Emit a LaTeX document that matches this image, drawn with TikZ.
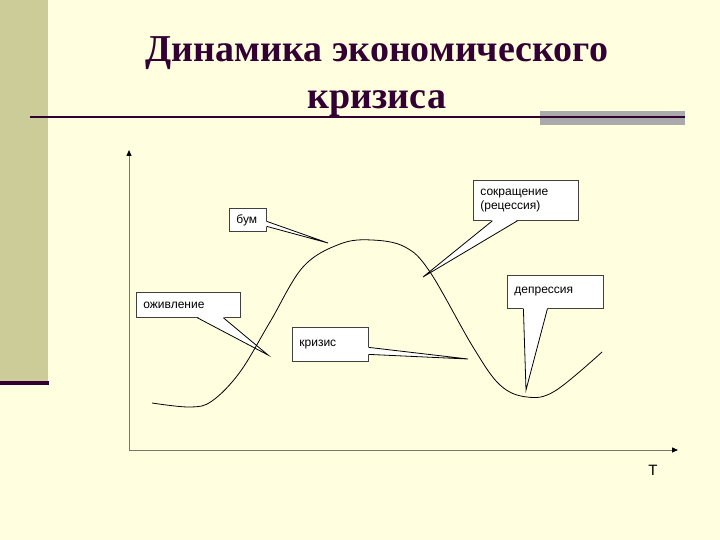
\documentclass[tikz,border=0pt]{standalone}
\usepackage{fontspec}
\setmainfont{Liberation Serif}
\setsansfont{Liberation Sans}
\usetikzlibrary{arrows.meta,positioning,calc}

\definecolor{slidebg}{RGB}{255,255,224}
\definecolor{sidebar}{RGB}{204,204,153}
\definecolor{plum}{RGB}{51,0,51}
\definecolor{bargray}{RGB}{170,170,170}
\definecolor{axisgray}{RGB}{120,120,110}

\begin{document}
\begin{tikzpicture}[x=1pt,y=-1pt,
  callout/.style={draw=black!75,fill=white,line width=0.8pt,anchor=north west,
    font=\sffamily\fontsize{12}{14}\selectfont,align=left,inner xsep=7pt,inner ysep=0pt},
  tail/.style={draw=black,line width=0.8pt},
  axis/.style={draw=axisgray,line width=1pt,-{Triangle[length=6pt,width=5pt,color=black]}}]
  \useasboundingbox[fill=slidebg] (0,0) rectangle (720,540);
  % slide decoration
  \fill[sidebar] (0,0) rectangle (48,381);
  \fill[plum] (0,381) rectangle (49,385);
  \fill[bargray] (540,111) rectangle (685,125);
  \draw[plum,line width=1.6pt] (30,117) -- (685,117);
  \node[text=plum,font=\bfseries\fontsize{38}{47}\selectfont,align=center] (title) at (377,77)
    {Динамика экономического\\кризиса};

  % axes
  \coordinate (O) at (129,450);
  \coordinate (ytop) at (129,150);
  \coordinate (xend) at (678,450);
  \draw[axis] (O) -- (ytop);
  \draw[axis] (O) -- (xend);
  \node[font=\sffamily\fontsize{15}{15}\selectfont] (T) at (653,470) {Т};

  % callouts
  \node[callout,text width=23pt,minimum height=23pt] (bum) at (229,208) {бум};
  \coordinate (bumtip) at (328,243);
  \fill[white] ($(bum.east)+(-1,1.5)$) -- (bumtip) -- ($(bum.east)+(-1,6.5)$) -- cycle;
  \draw[tail] ($(bum.east)+(0,1.5)$) -- (bumtip) -- ($(bum.east)+(0,6.5)$);

  \node[callout,text width=90pt,minimum height=25pt] (ozhiv) at (136,292) {оживление};
  \coordinate (ozhivtip) at (268,355);
  \fill[white] ($(ozhiv.south)+(9,-1)$) -- (ozhivtip) -- ($(ozhiv.south)+(35,-1)$) -- cycle;
  \draw[tail] ($(ozhiv.south)+(9,0)$) -- (ozhivtip) -- ($(ozhiv.south)+(35,0)$);

  \node[callout,text width=62pt,minimum height=34pt] (krizis) at (292,327) {кризис};
  \coordinate (krizistip) at (468,359);
  \fill[white] ($(krizis.east)+(-1,3)$) -- (krizistip) -- ($(krizis.east)+(-1,10)$) -- cycle;
  \draw[tail] ($(krizis.east)+(0,3)$) -- (krizistip) -- ($(krizis.east)+(0,10)$);

  \node[callout,text width=91pt,minimum height=40pt] (sokr) at (473,180) {сокращение\\(рецессия)};
  \coordinate (sokrtip) at (423,277);
  \fill[white] ($(sokr.south)+(-33.5,-1)$) -- (sokrtip) -- ($(sokr.south)+(-8.5,-1)$) -- cycle;
  \draw[tail] ($(sokr.south)+(-33.5,0)$) -- (sokrtip) -- ($(sokr.south)+(-8.5,0)$);

  \node[callout,text width=82pt,minimum height=33pt] (depr) at (507,275) {депрессия};
  \coordinate (deprtip) at (526,390);
  \fill[white] ($(depr.south)+(-32,-1)$) -- (deprtip) -- ($(depr.south)+(-8,-1)$) -- cycle;
  \draw[tail] ($(depr.south)+(-32,0)$) -- (deprtip) -- ($(depr.south)+(-8,0)$);

  % business cycle curve
  \draw[line width=0.8pt] plot[smooth,tension=0.6] coordinates {(152,403) (190,407) (212,401)
    (240,372) (270,322) (303,267) (340,244) (372,240) (405,247) (430,272) (473,347)
    (500,385) (527,397) (555,391) (602,352)};
\end{tikzpicture}
\end{document}
